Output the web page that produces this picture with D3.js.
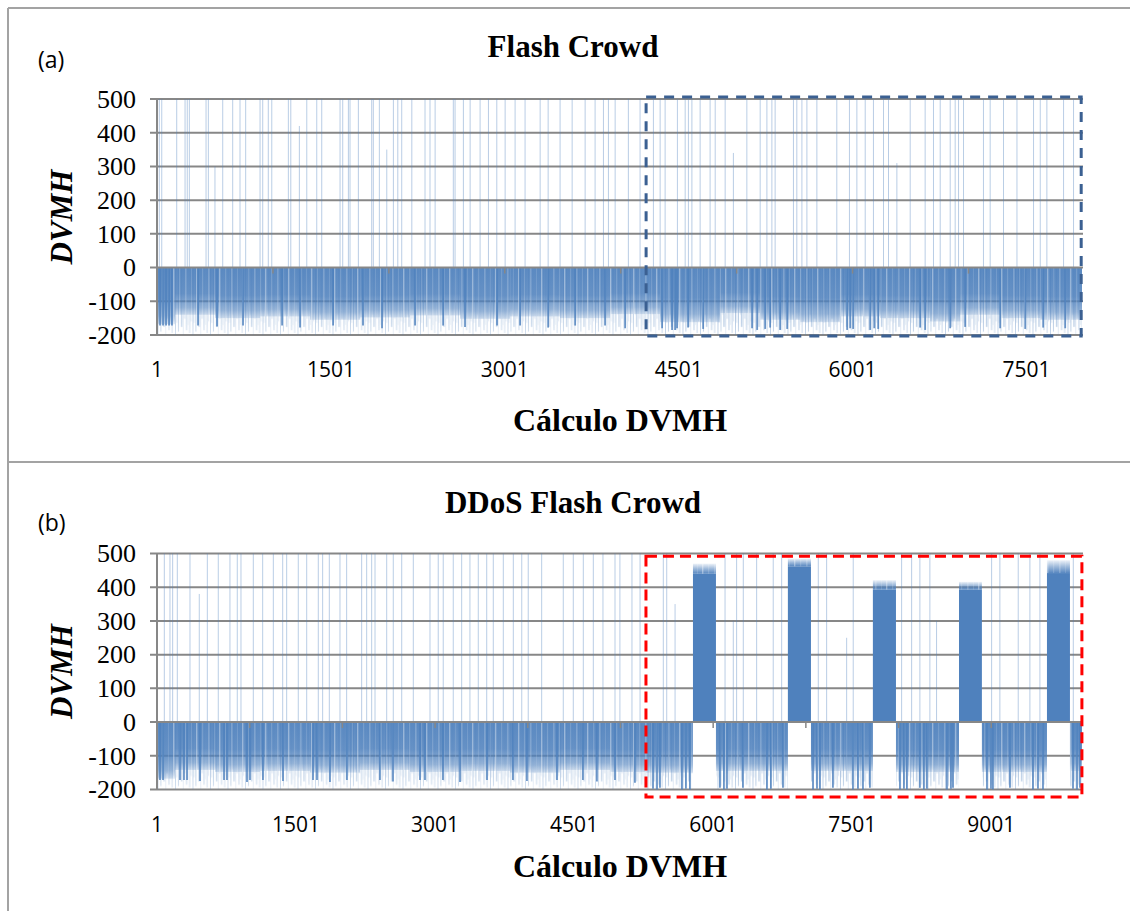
<!DOCTYPE html>
<html>
<head>
<meta charset="utf-8">
<script src="https://cdn.jsdelivr.net/npm/d3@7"></script>
<style>
  html, body { margin: 0; padding: 0; background: #fff; }
  svg { display: block; }
</style>
</head>
<body>
<svg id="chart" width="1130" height="911"></svg>
<script>
// ---- values ----
const yTicks = [500, 400, 300, 200, 100, 0, -100, -200];

// (a) Flash Crowd
const countA = 7980;
const xLabelsA = [1, 1501, 3001, 4501, 6001, 7501];
const windowA = [4220, 7973, -203, 506];   // dashed box: from, to, low, high
// dense negative part: [from, to, depth]
const bandA = [
  [1, 156, -168], [156, 501, -140], [501, 890, -150], [890, 1321, -145],
  [1321, 1753, -155], [1753, 2184, -148], [2184, 2615, -142], [2615, 3047, -152],
  [3047, 3478, -145], [3478, 3910, -150], [3910, 4341, -138], [4341, 4859, -162],
  [4859, 5204, -135], [5204, 5549, -155], [5549, 5894, -162], [5894, 6239, -145],
  [6239, 6670, -150], [6670, 6929, -160], [6929, 7274, -140], [7274, 7620, -150],
  [7620, 7980, -155]
];
// dark dips: [index, value]
const dipsA = [
  [27, -172], [53, -172], [79, -172], [105, -172], [130, -172], [355, -172],
  [519, -175], [743, -172], [1080, -172], [1235, -178], [1520, -172], [1778, -172],
  [1942, -180], [2227, -172], [2469, -172], [2658, -176], [2934, -172], [3133, -172],
  [3375, -178], [3608, -172], [3866, -172], [4039, -180], [4358, -180], [4444, -185],
  [4470, -185], [4487, -180], [4582, -178], [4712, -182], [5134, -180], [5178, -185],
  [5247, -182], [5290, -178], [5376, -185], [5437, -182], [5954, -185], [5980, -180],
  [6006, -182], [6153, -185], [6188, -180], [6222, -182], [6584, -178], [6627, -185],
  [6843, -180], [6972, -176], [7274, -180], [7490, -182], [7645, -178], [7835, -180]
];
// upward spikes: [index, value]
const spikesA = [
  [21, 520], [42, 520], [171, 520], [243, 520], [262, 520], [280, 520], [424, 520],
  [444, 520], [501, 300], [568, 520], [654, 520], [717, 520], [766, 520], [890, 520],
  [913, 520], [961, 520], [991, 520], [1134, 520], [1155, 520], [1229, 420], [1293, 520],
  [1379, 520], [1422, 520], [1580, 520], [1603, 520], [1652, 520], [1666, 520],
  [1738, 520], [1853, 520], [1867, 520], [1919, 520], [1983, 350], [2040, 520],
  [2078, 520], [2112, 520], [2199, 520], [2313, 520], [2356, 520], [2400, 520],
  [2557, 520], [2572, 520], [2644, 520], [2702, 520], [2788, 520], [2860, 520],
  [2932, 520], [3004, 520], [3090, 520], [3176, 520], [3306, 520], [3375, 520],
  [3478, 520], [3582, 520], [3694, 520], [3780, 520], [3852, 520], [3895, 520],
  [3953, 520], [4067, 520], [4168, 520], [4283, 520], [4341, 520], [4384, 520],
  [4490, 520], [4557, 520], [4585, 520], [4615, 520], [4686, 520], [4772, 520],
  [4816, 520], [4902, 520], [4973, 340], [5089, 520], [5204, 520], [5262, 520],
  [5305, 520], [5333, 520], [5491, 520], [5520, 520], [5564, 520], [5607, 520],
  [5693, 520], [5865, 520], [5974, 520], [6038, 520], [6110, 520], [6181, 520],
  [6268, 520], [6311, 520], [6383, 310], [6498, 520], [6627, 520], [6699, 520],
  [6757, 520], [6843, 520], [6886, 520], [6915, 520], [6958, 520], [7130, 520],
  [7188, 520], [7303, 520], [7419, 520], [7562, 520], [7620, 520], [7677, 520],
  [7821, 520], [7907, 520]
];

// (b) DDoS Flash Crowd
const countB = 9980;
const xLabelsB = [1, 1501, 3001, 4501, 6001, 7501, 9001];
const windowB = [5276, 9979, -222, 492];
const bandB = [
  [1, 195, -168], [195, 627, -142], [627, 1112, -148], [1112, 1651, -145],
  [1651, 2191, -150], [2191, 2730, -142], [2730, 3270, -148], [3270, 3809, -145],
  [3809, 4348, -150], [4348, 4888, -142], [4888, 5276, -148],
  [5276, 5783, -150], [6031, 6807, -145], [7056, 7724, -145], [7973, 8653, -148],
  [8900, 9602, -148], [9850, 9980, -145]
];
// attack bursts: [from, to, solid top, peak]
const burstsB = [
  [5783, 6031, 440, 470], [6807, 7056, 462, 485], [7724, 7973, 393, 421],
  [8653, 8900, 393, 416], [9602, 9850, 442, 480]
];
const dipsB = [
  [33, -172], [66, -172], [249, -172], [292, -172], [325, -172], [465, -175],
  [724, -172], [756, -172], [972, -178], [1004, -172], [1144, -172], [1360, -175],
  [1684, -172], [1727, -172], [1867, -178], [2050, -172], [2406, -172], [2547, -176],
  [2838, -172], [2892, -172], [3086, -172], [3270, -178], [3561, -172], [3841, -172],
  [3992, -175], [4316, -172], [4596, -172], [4747, -176], [4942, -172], [5157, -180],
  [5352, -198], [5395, -200], [5427, -195], [5664, -200], [5707, -198], [5750, -200],
  [6074, -195], [6117, -200], [6150, -198], [6322, -195], [6581, -200], [6624, -198],
  [6754, -195], [7078, -200], [7121, -198], [7153, -200], [7293, -195], [7509, -200],
  [7563, -198], [7617, -200], [7692, -195], [8016, -200], [8059, -198], [8091, -200],
  [8231, -195], [8274, -200], [8307, -198], [8523, -200], [8566, -198], [8588, -195],
  [8955, -200], [8998, -198], [9019, -200], [9203, -195], [9451, -200], [9505, -198],
  [9559, -200], [9883, -198], [9926, -200], [9958, -195]
];
const spikesB = [
  [80, 520], [141, 520], [170, 520], [220, 520], [357, 520], [457, 380], [544, 520],
  [662, 520], [788, 520], [867, 520], [907, 520], [1040, 520], [1141, 520], [1256, 520],
  [1357, 520], [1400, 520], [1525, 520], [1616, 520], [1741, 520], [1788, 520],
  [1860, 520], [1975, 520], [2047, 520], [2209, 520], [2263, 520], [2317, 520],
  [2353, 520], [2479, 520], [2550, 520], [2641, 520], [2766, 520], [2946, 520],
  [3035, 520], [3089, 520], [3197, 520], [3288, 520], [3377, 520], [3467, 520],
  [3558, 520], [3629, 520], [3737, 520], [3845, 520], [3936, 520], [4006, 520],
  [4151, 520], [4384, 520], [4492, 520], [4600, 520], [4708, 520], [4812, 520],
  [4942, 520], [4995, 520], [5125, 520], [5212, 520],
  [5463, 520], [5500, 520], [5590, 350], [6129, 520], [6218, 300], [6254, 520],
  [6326, 520], [6470, 520], [6649, 520], [6740, 520], [7135, 520], [7225, 520],
  [7441, 250], [7512, 520], [8034, 520], [8142, 520], [8231, 520], [8339, 520],
  [8411, 300], [9005, 520], [9094, 520], [9292, 520], [9418, 520], [9526, 520],
  [9886, 520]
];

// ---- drawing ----
const BLUE = "#4f81bd";
const GRID = "#878787";
const FRAME = "#a3a3a3";

const settings = {
  left: 157, right: 1082,
  plotHeight: 236,
  gridStart: 150, gridEnd: 1083,
  serif: "'Liberation Serif', serif",
  sans: "'Open Sans', 'Liberation Sans', sans-serif"
};

// texture of the thin traces: [x, width, opacity, length share]
const traceLines = [
  [0, 0.7, 0.8, 1], [1.6, 0.5, 0.5, 0.82], [3.1, 0.8, 0.7, 0.95], [4.9, 0.4, 0.45, 0.7],
  [6.2, 0.9, 0.85, 0.88], [7.9, 0.5, 0.55, 1], [9.4, 0.6, 0.65, 0.76], [11.2, 0.8, 0.75, 0.93],
  [12.9, 0.4, 0.4, 0.85], [14.3, 0.7, 0.7, 0.97], [16.1, 0.5, 0.5, 0.8]
];
const streakLines = [[1.5, 0.8, 0.4], [7, 0.5, 0.25], [12.2, 1.1, 0.45], [18.5, 0.6, 0.3]];

const svg = d3.select("#chart");
const defs = svg.append("defs");

function addGradient(id, stops) {
  const g = defs.append("linearGradient").attr("id", id)
    .attr("x1", 0).attr("y1", 0).attr("x2", 0).attr("y2", 1);
  stops.forEach(([o, op, c]) => g.append("stop")
    .attr("offset", o).attr("stop-color", c || BLUE).attr("stop-opacity", op));
}
addGradient("bandGrad", [[0, 0.92], [0.55, 0.85], [0.85, 0.55], [1, 0.2]]);
addGradient("topGrad", [[0, 0.1], [0.5, 0.55], [1, 0.95]]);
addGradient("fadeGrad", [[0, 1, "#fff"], [0.8, 1, "#bbb"], [1, 1, "#888"]]);

defs.append("mask").attr("id", "fade")
  .attr("maskContentUnits", "objectBoundingBox")
  .append("rect").attr("width", 1).attr("height", 1).attr("fill", "url(#fadeGrad)");

const streak = defs.append("pattern").attr("id", "streak")
  .attr("patternUnits", "userSpaceOnUse").attr("width", 23).attr("height", 10);
streakLines.forEach(([x, w, op]) => streak.append("rect")
  .attr("x", x).attr("width", w).attr("height", 10)
  .attr("fill", "#fff").attr("fill-opacity", op));

function addTraces(id, y0, h) {
  const p = defs.append("pattern").attr("id", id)
    .attr("patternUnits", "userSpaceOnUse")
    .attr("patternTransform", `translate(0,${y0})`)
    .attr("width", 17.5).attr("height", h);
  traceLines.forEach(([x, w, op, len]) => p.append("rect")
    .attr("x", x).attr("y", 0).attr("width", w).attr("height", h * len)
    .attr("fill", BLUE).attr("fill-opacity", op));
}

// frame lines
svg.append("g").attr("stroke", FRAME).attr("stroke-width", 2)
  .selectAll("line")
  .data([[8, 8, 1130, 8], [8, 8, 8, 911], [8, 462, 1130, 462]])
  .join("line")
  .attr("x1", d => d[0]).attr("y1", d => d[1])
  .attr("x2", d => d[2]).attr("y2", d => d[3]);

function drawPanel(p) {
  const g = svg.append("g");
  const x = d3.scaleLinear().domain([1, p.count]).range([settings.left, settings.right]);
  const y = d3.scaleLinear().domain([-200, 500])
    .range([p.top + settings.plotHeight, p.top]);

  addTraces(p.id, y(0), y(-200) - y(0));

  // gridlines
  g.append("g").attr("stroke", GRID).attr("stroke-width", 2)
    .selectAll("line").data(yTicks.filter(t => t !== 0)).join("line")
    .attr("x1", settings.gridStart).attr("x2", settings.gridEnd)
    .attr("y1", d => y(d)).attr("y2", d => y(d));

  const data = g.append("g");

  // thin traces down to -200
  data.append("g").selectAll("rect").data(p.band).join("rect")
    .attr("x", d => x(d[0])).attr("width", d => x(d[1]) - x(d[0]))
    .attr("y", y(0)).attr("height", y(-200) - y(0))
    .attr("fill", `url(#${p.id})`)
    .attr("opacity", d => d[0] >= p.window[0] ? 1 : 0.8)
    .attr("mask", "url(#fade)");

  // dense part of the negative signal
  data.append("g").selectAll("rect").data(p.band).join("rect")
    .attr("x", d => x(d[0])).attr("width", d => x(d[1]) - x(d[0]))
    .attr("y", y(0)).attr("height", d => y(d[2]) - y(0))
    .attr("fill", "url(#bandGrad)");

  data.append("g").selectAll("rect").data(p.band).join("rect")
    .attr("x", d => x(d[0])).attr("width", d => x(d[1]) - x(d[0]))
    .attr("y", y(0)).attr("height", d => y(d[2]) - y(0))
    .attr("fill", "url(#streak)");

  // dark dips
  data.append("g").attr("stroke", BLUE).attr("stroke-width", 1.8)
    .attr("stroke-opacity", 0.85)
    .selectAll("line").data(p.dips).join("line")
    .attr("x1", d => x(d[0])).attr("x2", d => x(d[0]))
    .attr("y1", y(0)).attr("y2", d => y(d[1]));

  // faint upward spikes (clipped at the top)
  data.append("g").attr("stroke", BLUE).attr("stroke-width", 1)
    .attr("stroke-opacity", 0.4)
    .selectAll("line").data(p.spikes).join("line")
    .attr("x1", d => x(d[0])).attr("x2", d => x(d[0]))
    .attr("y1", y(0)).attr("y2", d => y(Math.min(500, d[1])));

  // attack bursts
  const bursts = data.append("g").selectAll("g").data(p.bursts || []).join("g");
  bursts.append("rect")
    .attr("x", d => x(d[0])).attr("width", d => x(d[1]) - x(d[0]))
    .attr("y", d => y(d[2])).attr("height", d => y(0) - y(d[2]))
    .attr("fill", BLUE);
  bursts.append("rect")
    .attr("x", d => x(d[0])).attr("width", d => x(d[1]) - x(d[0]))
    .attr("y", d => y(d[3])).attr("height", d => y(d[2]) - y(d[3]))
    .attr("fill", "url(#topGrad)");
  bursts.append("rect")
    .attr("x", d => x(d[0])).attr("width", d => x(d[1]) - x(d[0]))
    .attr("y", d => y(d[3])).attr("height", d => y(d[2]) - y(d[3]))
    .attr("fill", "url(#streak)");

  // axes
  g.append("line").attr("stroke", GRID).attr("stroke-width", 2)
    .attr("x1", settings.gridStart).attr("x2", settings.gridEnd)
    .attr("y1", y(0)).attr("y2", y(0));
  g.append("line").attr("stroke", GRID).attr("stroke-width", 2)
    .attr("x1", settings.left).attr("x2", settings.left)
    .attr("y1", y(500)).attr("y2", y(-200));
  g.append("g").attr("stroke", GRID).attr("stroke-width", 1.5)
    .selectAll("line").data(d3.range(1001, p.count, 1000)).join("line")
    .attr("x1", d => x(d)).attr("x2", d => x(d))
    .attr("y1", y(0)).attr("y2", y(0) + 6);

  g.append("g").selectAll("text").data(yTicks).join("text")
    .attr("x", 136).attr("y", d => y(d)).attr("dy", "0.34em")
    .attr("text-anchor", "end")
    .style("font-family", settings.serif).style("font-size", "26px")
    .attr("fill", "#000")
    .text(d => d);

  g.append("g").selectAll("text").data(p.labels).join("text")
    .attr("x", d => x(d)).attr("y", p.labelY)
    .attr("text-anchor", "middle")
    .style("font-family", settings.sans).style("font-size", "21px")
    .attr("fill", "#000")
    .text(d => d);

  // highlighted window
  g.append("rect")
    .attr("x", x(p.window[0])).attr("width", x(p.window[1]) - x(p.window[0]))
    .attr("y", y(p.window[3])).attr("height", y(p.window[2]) - y(p.window[3]))
    .attr("fill", "none").attr("stroke", p.boxColor).attr("stroke-width", 3)
    .attr("stroke-dasharray", p.boxDash);

  // texts
  g.append("text").attr("x", 573).attr("y", p.titleY)
    .attr("text-anchor", "middle")
    .style("font-family", settings.serif).style("font-weight", "bold")
    .style("font-size", "31px").text(p.title);

  g.append("text").attr("x", 38).attr("y", p.tagY)
    .style("font-family", settings.sans).style("font-size", "23px")
    .text(p.tag);

  g.append("text")
    .attr("transform", `translate(72,${(y(500) + y(-200)) / 2}) rotate(-90)`)
    .attr("text-anchor", "middle")
    .style("font-family", settings.serif).style("font-weight", "bold")
    .style("font-style", "italic").style("font-size", "31px")
    .text("DVMH");

  g.append("text").attr("x", 620).attr("y", p.axisTitleY)
    .attr("text-anchor", "middle")
    .style("font-family", settings.serif).style("font-weight", "bold")
    .style("font-size", "32px").text("Cálculo DVMH");
}

drawPanel({
  id: "tracesA", top: 99, count: countA, labels: xLabelsA, window: windowA,
  band: bandA, dips: dipsA, spikes: spikesA,
  boxColor: "#3b6092", boxDash: "10,8",
  title: "Flash Crowd", titleY: 57, tag: "(a)", tagY: 68,
  labelY: 377, axisTitleY: 431
});

drawPanel({
  id: "tracesB", top: 553.5, count: countB, labels: xLabelsB, window: windowB,
  band: bandB, dips: dipsB, spikes: spikesB, bursts: burstsB,
  boxColor: "#ff0000", boxDash: "11,6",
  title: "DDoS Flash Crowd", titleY: 513, tag: "(b)", tagY: 531,
  labelY: 832, axisTitleY: 877
});
</script>
</body>
</html>
